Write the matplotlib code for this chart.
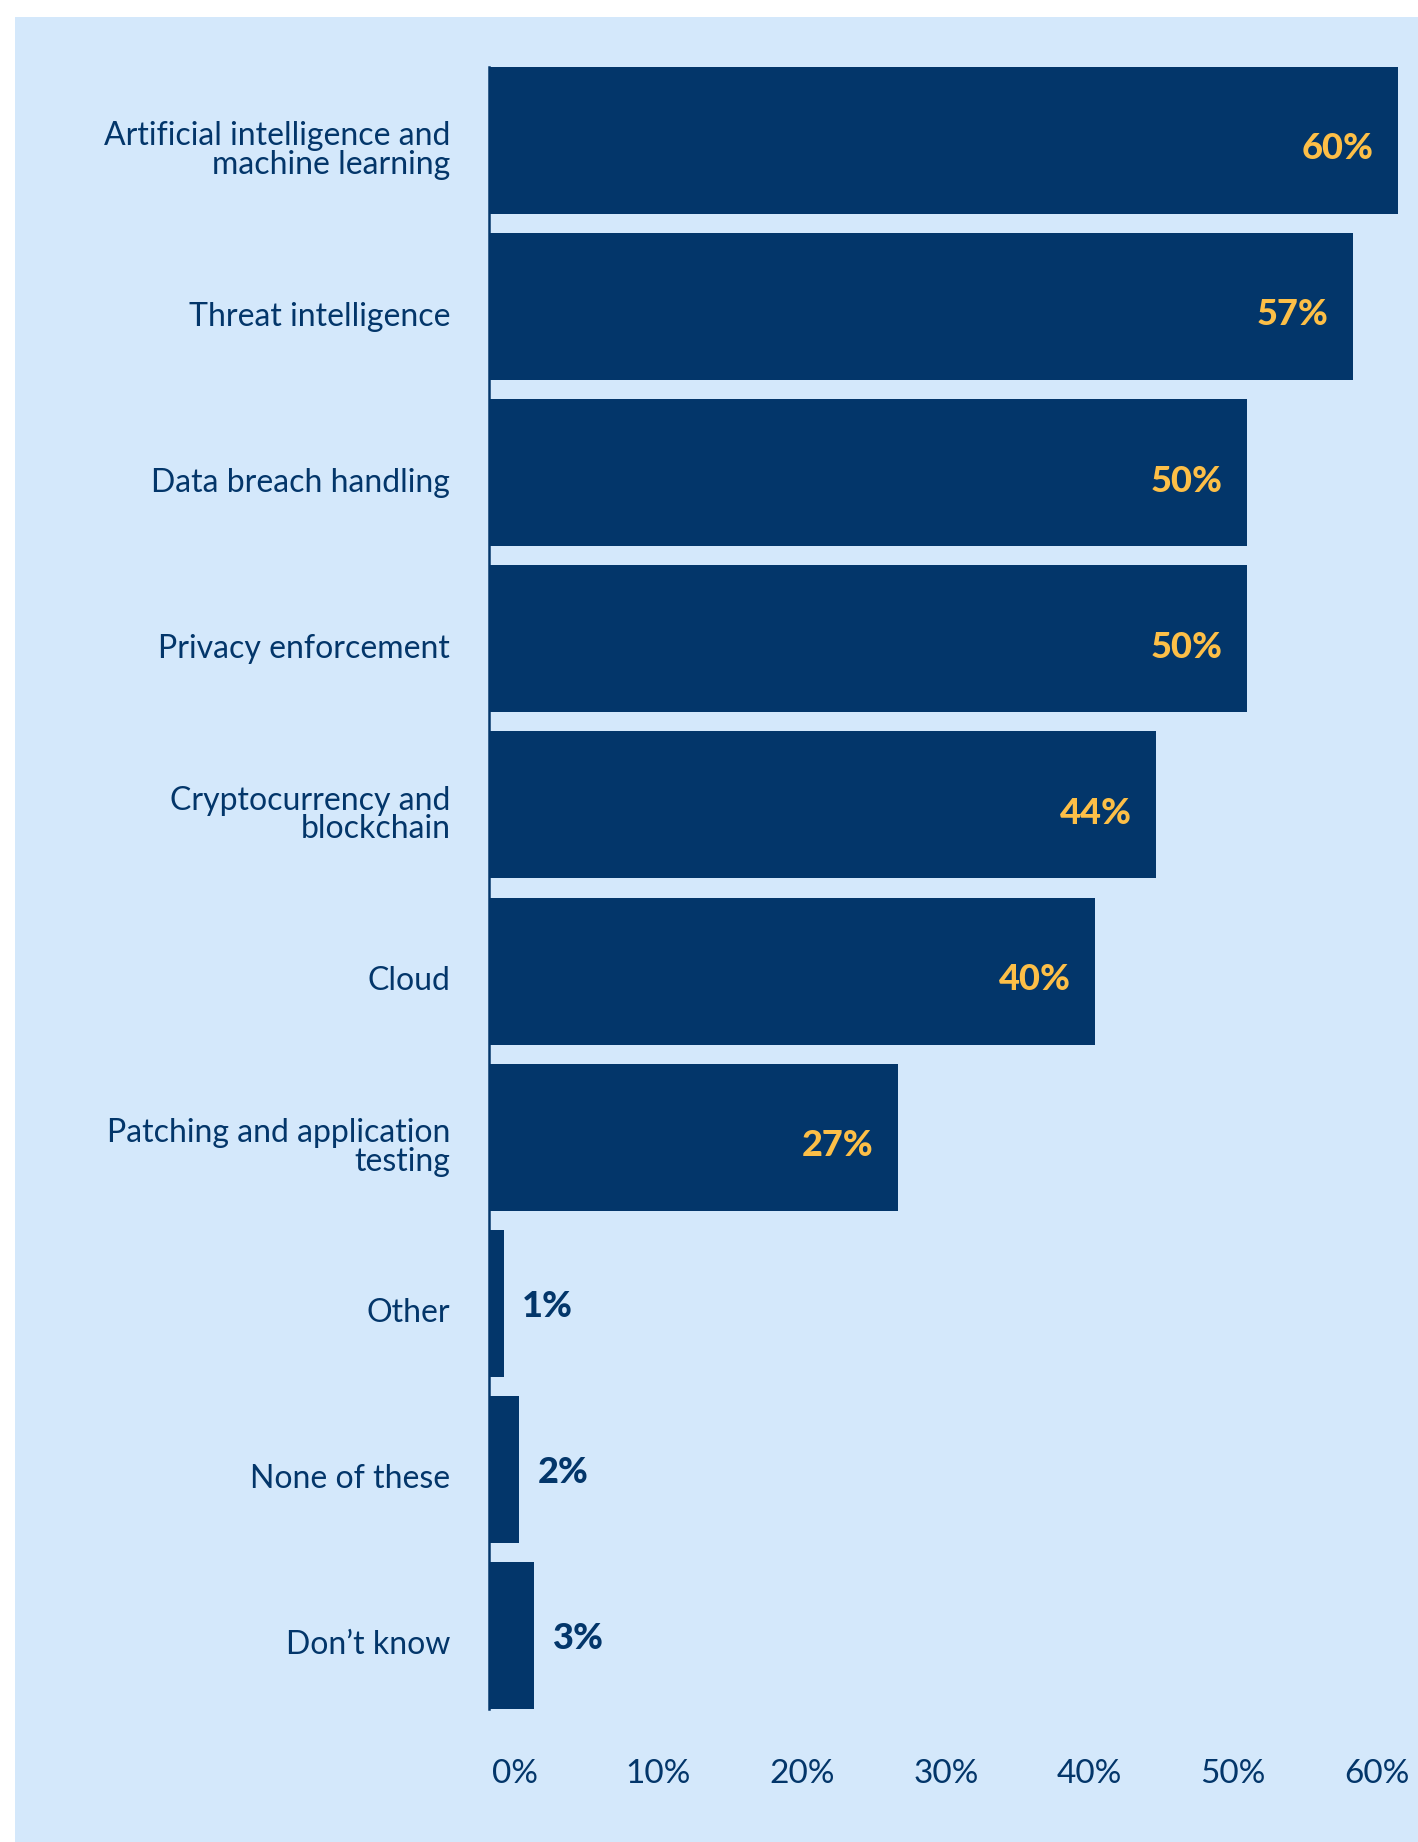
import matplotlib.pyplot as plt
from matplotlib.patches import Rectangle

# Survey results: technology areas
categories = [
    "Artificial intelligence and\nmachine learning",
    "Threat intelligence",
    "Data breach handling",
    "Privacy enforcement",
    "Cryptocurrency and\nblockchain",
    "Cloud",
    "Patching and application\ntesting",
    "Other",
    "None of these",
    "Don\u2019t know",
]
values = [60, 57, 50, 50, 44, 40, 27, 1, 2, 3]
xticks = [0, 10, 20, 30, 40, 50, 60]

navy = "#03366a"
yellow = "#fdbf47"
panel = "#d4e8fb"

plt.rcParams["font.family"] = ["Lato", "DejaVu Sans"]

W, H = 1418, 1842
fig = plt.figure(figsize=(W / 100, H / 100), dpi=100, facecolor="white")

# light blue panel with a thin white margin on top/left
fig.patches.append(Rectangle((15 / W, 0), 1 - 15 / W, 1 - 17 / H,
                             transform=fig.transFigure, facecolor=panel,
                             edgecolor="none", zorder=-10))

ax = fig.add_axes([489 / W, 133 / H, 929 / W, (1709 - 67) / H])
ax.set_facecolor("none")

bar_h = 0.885
y = list(range(len(categories)))
ax.barh(y, values, height=bar_h, color=navy, clip_on=False)

ax.set_xlim(0, 61.3)
ax.set_ylim(len(categories) - 1 + bar_h / 2, -bar_h / 2)

for s in ["top", "right", "bottom"]:
    ax.spines[s].set_visible(False)
ax.spines["left"].set_color(navy)
ax.spines["left"].set_linewidth(1.8)

ax.set_yticks(y)
ax.set_yticklabels([])
for yi, lab in zip(y, categories):
    ax.text(-2.55, yi + 0.06, lab, ha="right", va="center", fontsize=23,
            color=navy, linespacing=0.95)

# percentage scale printed under the chart, slightly compressed and inset
tick_pos = [1.7 + t * 0.948 for t in xticks]
ax.set_xticks(tick_pos)
ax.set_xticklabels([f"{t}%" for t in xticks], fontsize=24, color=navy)
ax.tick_params(axis="both", length=0)
ax.tick_params(axis="x", pad=36)

# value labels: inside the bar for long bars, outside for short ones
for yi, v in zip(y, values):
    if v >= 10:
        ax.text(v - 1.6, yi + 0.05, f"{v}%", ha="right", va="center",
                fontsize=26, fontweight="black", color=yellow)
    else:
        ax.text(v + 1.2, yi + 0.02, f"{v}%", ha="left", va="center",
                fontsize=26, fontweight="black", color=navy)

fig.savefig("out.png", dpi=100, facecolor=fig.get_facecolor())
